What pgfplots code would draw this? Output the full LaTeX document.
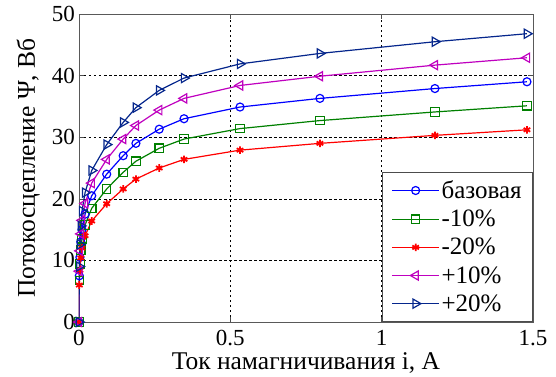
\documentclass[border=0pt]{standalone}
\usepackage{pgfplots}
\usepackage{pgfplotstable}
\pgfplotsset{compat=1.18}
\usepackage{fontspec}
\setmainfont{Liberation Serif}
\definecolor{cbase}{rgb}{0,0,1}
\definecolor{cm10}{rgb}{0,0.5,0}
\definecolor{cm20}{rgb}{1,0,0}
\definecolor{cp10}{rgb}{0.75,0,0.75}
\definecolor{cp20}{rgb}{0.02,0.15,0.55}
\pgfplotstableread{
i      m20   m10    base  p10    p20
0      0     0      0     0      0
0.001  6.0   6.75   7.5   8.25   9.0
0.003  8.4   9.45   10.5  11.55  12.6
0.006  10.4  11.7   13.0  14.3   15.6
0.010  12.0  13.5   15.0  16.5   18.0
0.020  14.0  15.75  17.5  19.25  21.0
0.042  16.4  18.45  20.5  22.55  24.6
0.0915 19.2  21.6   24.0  26.4   28.8
0.146  21.6  24.3   27.0  29.7   32.4
0.188  23.2  26.1   29.0  31.9   34.8
0.265  25.0  28.2   31.3  34.4   37.6
0.347  26.4  29.7   33.0  36.3   39.6
0.532  27.9  31.4   34.9  38.4   41.9
0.796  29.0  32.7   36.3  39.9   43.6
1.176  30.3  34.1   37.9  41.7   45.5
1.48   31.2  35.1   39.0  42.9   46.8
}\datatab
\begin{document}
\begin{tikzpicture}
\useasboundingbox (-79pt,-54pt) rectangle (477pt,322pt);
\begin{axis}[
  at={(0pt,0pt)}, anchor=south west,
  scale only axis,
  width=454pt, height=308pt,
  xmin=0, xmax=1.5, ymin=0, ymax=50,
  xtick={0,0.5,1,1.5}, xticklabels={0,0.5,1,1.5},
  ytick={0,10,20,30,40,50},
  tick align=inside, tick pos=both,
  major tick length=5pt,
  /pgf/number format/assume math mode=true,
  tick label style={font=\fontsize{23}{26}\selectfont},
  xticklabel style={anchor=north, inner sep=0pt, yshift=-8pt},
  yticklabel style={anchor=east, inner sep=0pt, xshift=-4pt},
  xlabel={Ток намагничивания i, А},
  ylabel={Потокосцепление Ψ, Вб},
  xlabel style={font=\fontsize{25.5}{28}\selectfont, at={([yshift=-30pt]axis description cs:0.5,0)}, anchor=north, inner sep=0pt},
  ylabel style={font=\fontsize{25.5}{28}\selectfont, at={([xshift=-39pt]axis description cs:0,0.5)}, rotate=0, anchor=south, inner sep=0pt},
  grid=major,
  major grid style={black, dashed, line width=0.6pt, dash pattern=on 2.5pt off 2.5pt},
  axis line style={black!65, line width=0.8pt},
  every tick/.style={black!70, line width=0.6pt},
  legend style={at={(1,0)}, anchor=south east, draw=black!70, fill=white,
    font=\fontsize{25}{28}\selectfont, row sep=6pt, inner xsep=9pt, inner ysep=7pt,
    line width=0.6pt},
  legend cell align=left,
  legend image code/.code={
    \draw[mark repeat=2,mark phase=2,#1] plot coordinates {(0cm,0cm) (0.82cm,0cm) (1.64cm,0cm)};},
]
\addplot[cbase, line width=1.2pt, mark=o, mark size=4pt, mark options={line width=1.2pt}] table[x=i,y=base] {\datatab};
\addlegendentry{базовая}
\addplot[cm10, line width=1.2pt, mark=square, mark size=4.2pt, mark options={line width=1.2pt}] table[x=i,y=m10] {\datatab};
\addlegendentry{-10\%}
\addplot[cm20, line width=1.2pt, mark=asterisk, mark size=3.8pt, mark options={line width=1.8pt}] table[x=i,y=m20] {\datatab};
\addlegendentry{-20\%}
\addplot[cp10, line width=1.2pt, mark=triangle, mark size=5.3pt, mark options={line width=1.2pt, rotate=90}] table[x=i,y=p10] {\datatab};
\addlegendentry{+10\%}
\addplot[cp20, line width=1.2pt, mark=triangle, mark size=5.3pt, mark options={line width=1.2pt, rotate=-90}] table[x=i,y=p20] {\datatab};
\addlegendentry{+20\%}
\end{axis}
\end{tikzpicture}
\end{document}
